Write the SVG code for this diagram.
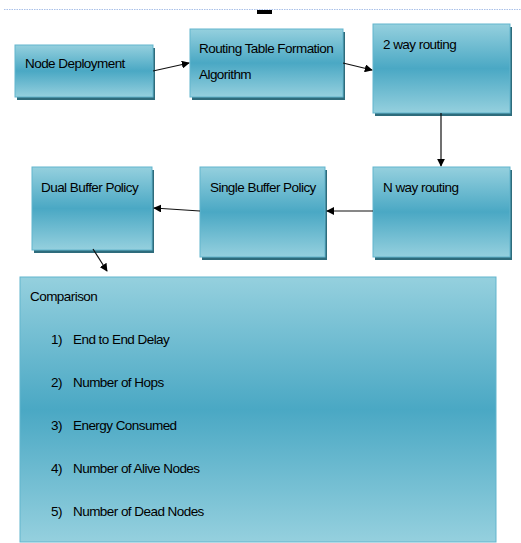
<svg xmlns="http://www.w3.org/2000/svg" width="521" height="543" viewBox="0 0 521 543">
  <defs>
    <linearGradient id="boxFill" x1="0" y1="0" x2="0" y2="1">
      <stop offset="0" stop-color="#95d0de"/>
      <stop offset="0.5" stop-color="#4aa8c4"/>
      <stop offset="1" stop-color="#95d0de"/>
    </linearGradient>
    <marker id="arrow" viewBox="0 0 10 10" refX="9" refY="5" markerWidth="8" markerHeight="8" markerUnits="userSpaceOnUse" orient="auto">
      <path d="M0,0 L10,5 L0,10 z" fill="#000"/>
    </marker>
    <style>
      .box { fill: url(#boxFill); stroke: #62b5cd; stroke-width: 1; }
      .shadow { fill: #2e6c7c; }
      .label { font-family: "Liberation Sans", "DejaVu Sans", sans-serif; font-size: 13.5px; fill: #000; letter-spacing: -0.55px; }
      .edge { stroke: #111; stroke-width: 1.2; fill: none; marker-end: url(#arrow); }
    </style>
  </defs>

  <rect width="521" height="543" fill="#fff"/>

  <!-- page header rule and marker -->
  <line x1="4" y1="9.5" x2="521" y2="9.5" stroke="#a9c0e8" stroke-width="1" stroke-dasharray="1.5 1"/>
  <rect x="257" y="10" width="15" height="4" fill="#000"/>

  <g id="node-deployment">
    <rect class="shadow" x="17" y="48" width="138" height="52"/>
    <rect class="box" x="15" y="45" width="138" height="52"/>
    <text class="label" x="25" y="68">Node Deployment</text>
  </g>

  <g id="routing-table">
    <rect class="shadow" x="192" y="32" width="153" height="68"/>
    <rect class="box" x="190" y="29" width="153" height="68"/>
    <text class="label" x="199" y="53">Routing Table Formation</text>
    <text class="label" x="199" y="79">Algorithm</text>
  </g>

  <g id="two-way-routing">
    <rect class="shadow" x="375" y="27" width="137" height="89"/>
    <rect class="box" x="373" y="24" width="137" height="89"/>
    <text class="label" x="383" y="49">2 way routing</text>
  </g>

  <g id="n-way-routing">
    <rect class="shadow" x="375" y="170" width="137" height="90"/>
    <rect class="box" x="373" y="167" width="137" height="90"/>
    <text class="label" x="383" y="192">N way routing</text>
  </g>

  <g id="single-buffer">
    <rect class="shadow" x="202" y="170" width="125" height="90"/>
    <rect class="box" x="200" y="167" width="125" height="90"/>
    <text class="label" x="210" y="192">Single Buffer Policy</text>
  </g>

  <g id="dual-buffer">
    <rect class="shadow" x="34" y="170" width="120" height="83"/>
    <rect class="box" x="32" y="167" width="120" height="83"/>
    <text class="label" x="41" y="192">Dual Buffer Policy</text>
  </g>

  <g id="comparison">
    <rect class="box" x="20" y="277" width="476" height="265"/>
    <text class="label" x="30" y="301">Comparison</text>
    <text class="label" x="51" y="344">1)</text>
    <text class="label" x="73" y="344">End to End Delay</text>
    <text class="label" x="51" y="387">2)</text>
    <text class="label" x="73" y="387">Number of Hops</text>
    <text class="label" x="51" y="430">3)</text>
    <text class="label" x="73" y="430">Energy Consumed</text>
    <text class="label" x="51" y="473">4)</text>
    <text class="label" x="73" y="473">Number of Alive Nodes</text>
    <text class="label" x="51" y="516">5)</text>
    <text class="label" x="73" y="516">Number of Dead Nodes</text>
  </g>

  <g id="connectors">
    <line class="edge" x1="153" y1="71" x2="189" y2="63"/>
    <line class="edge" x1="343" y1="63" x2="372" y2="70"/>
    <line class="edge" x1="441" y1="113" x2="441" y2="166"/>
    <line class="edge" x1="373" y1="211" x2="327" y2="211"/>
    <line class="edge" x1="200" y1="211" x2="154" y2="208"/>
    <line class="edge" x1="93" y1="249" x2="107" y2="271"/>
  </g>
</svg>
